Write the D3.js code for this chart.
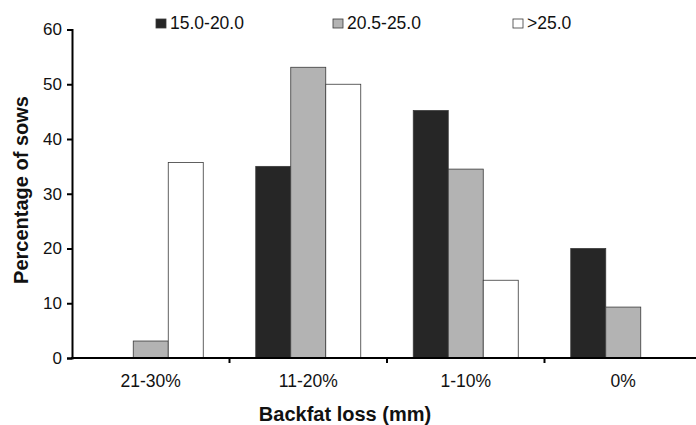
<!DOCTYPE html>
<html>
<head>
<meta charset="utf-8">
<script src="https://cdn.jsdelivr.net/npm/d3@7"></script>
<style>
  body { margin: 0; background: #fff; }
  svg { display: block; font-family: "Liberation Sans", Arial, sans-serif; }
</style>
</head>
<body>
<svg id="chart" width="696" height="425"></svg>
<script>
// 데이터
const categories = ['21-30%', '11-20%', '1-10%', '0%'];
const seriesNames = ['15.0-20.0', '20.5-25.0', '>25.0'];
const s15 = [null, 35.0, 45.2, 20.0];
const s20 = [3.1, 53.1, 34.5, 9.3];
const s25 = [35.7, 50.0, 14.2, null];
const yTicks = [0, 10, 20, 30, 40, 50, 60];

const fills = ['#262626', '#b3b3b3', '#ffffff'];
const series = [s15, s20, s25];

const M = { left: 72, right: 702, top: 29.5, bottom: 358 };
const svg = d3.select('#chart');

const x = d3.scaleBand().domain(categories).range([M.left, M.right]);
const xs = d3.scaleBand().domain(seriesNames).range([0, 105]);
const y = d3.scaleLinear().domain([0, 60]).range([M.bottom, M.top]);

// 막대
categories.forEach((c, ci) => {
  const gx = x(c) + (x.bandwidth() - 105) / 2;
  series.forEach((s, si) => {
    const v = s[ci];
    if (v == null) return;
    svg.append('rect')
      .attr('x', gx + xs(seriesNames[si]))
      .attr('y', y(v))
      .attr('width', xs.bandwidth())
      .attr('height', y(0) - y(v))
      .attr('fill', fills[si])
      .attr('stroke', '#3a3a3a')
      .attr('stroke-width', 0.8);
  });
});

// y 축
const yAxis = svg.append('g')
  .attr('transform', `translate(${M.left},0)`)
  .call(d3.axisLeft(y).tickValues(yTicks).tickSize(5).tickPadding(5));
yAxis.select('.domain').attr('stroke', '#000').attr('stroke-width', 2);
yAxis.selectAll('.tick line').attr('stroke', '#000').attr('stroke-width', 2);
yAxis.selectAll('text').attr('font-size', 17).attr('fill', '#111')
  .attr('font-family', '"Liberation Sans", Arial, sans-serif');

// x 축
svg.append('line')
  .attr('x1', M.left - 1).attr('x2', M.right)
  .attr('y1', y(0)).attr('y2', y(0))
  .attr('stroke', '#000').attr('stroke-width', 2);
categories.slice(1).forEach(c => {
  svg.append('line')
    .attr('x1', x(c)).attr('x2', x(c))
    .attr('y1', y(0)).attr('y2', y(0) + 5)
    .attr('stroke', '#000').attr('stroke-width', 2);
});
categories.forEach(c => {
  svg.append('text')
    .attr('x', x(c) + x.bandwidth() / 2)
    .attr('y', 387)
    .attr('text-anchor', 'middle')
    .attr('font-size', 17.5).attr('fill', '#111')
    .text(c);
});

// 축 제목
svg.append('text')
  .attr('x', 345).attr('y', 421)
  .attr('text-anchor', 'middle')
  .attr('font-size', 20).attr('font-weight', 'bold').attr('fill', '#111')
  .text('Backfat loss (mm)');
svg.append('text')
  .attr('transform', 'translate(28,190) rotate(-90)')
  .attr('text-anchor', 'middle')
  .attr('font-size', 20).attr('font-weight', 'bold').attr('fill', '#111')
  .text('Percentage of sows');

// 범례
const legendX = [156, 333, 513];
seriesNames.forEach((n, i) => {
  svg.append('rect')
    .attr('x', legendX[i]).attr('y', 19)
    .attr('width', 10).attr('height', 9)
    .attr('fill', fills[i])
    .attr('stroke', '#3a3a3a').attr('stroke-width', 0.8);
  svg.append('text')
    .attr('x', legendX[i] + 14).attr('y', 28.5)
    .attr('font-size', 17.5).attr('fill', '#111')
    .text(n);
});
</script>
</body>
</html>
